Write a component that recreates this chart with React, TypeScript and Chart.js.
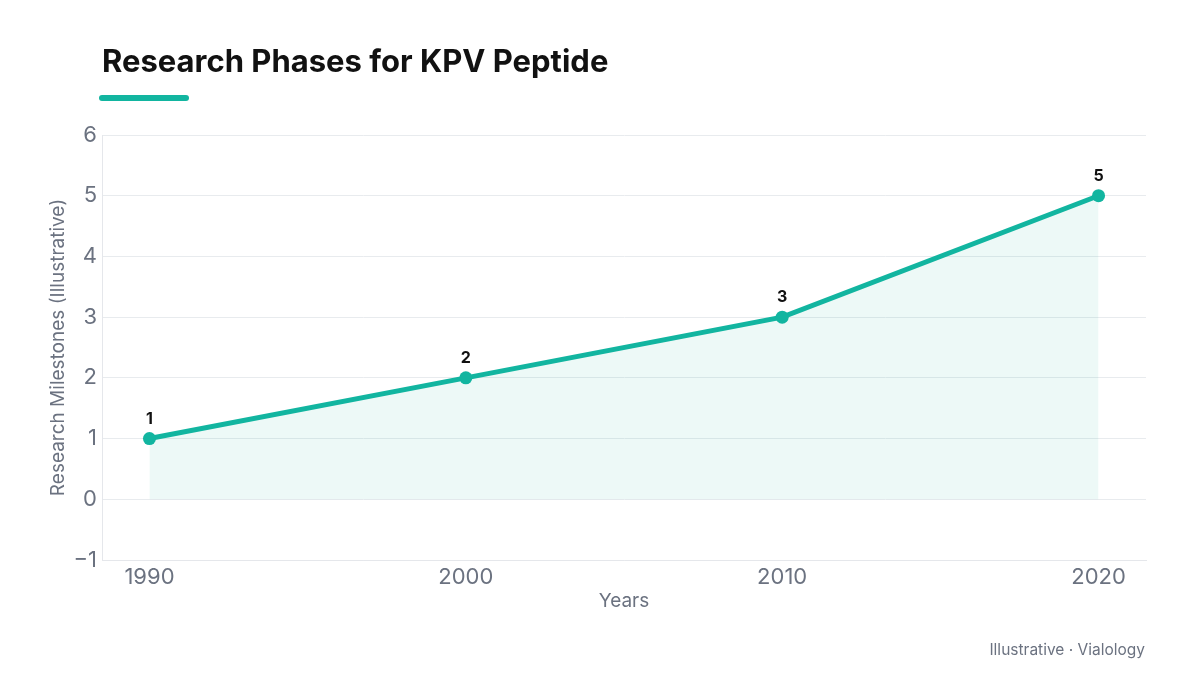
import React, { useEffect, useRef } from "react";
import { Chart, registerables } from "chart.js";

Chart.register(...registerables);

const years = [1990, 2000, 2010, 2020];
const milestones = [1, 2, 3, 5];
const yearTicks = [1990, 2000, 2010, 2020];
const titleText = "Research Phases for KPV Peptide";
const footerText = "Illustrative · Vialology";
const yTitle = "Research Milestones (Illustrative)";
const xTitle = "Years";

const TEAL = "#12b5a0";
const FONT = "Inter, 'Noto Sans', sans-serif";

const decorPlugin = {
  id: "decor",
  afterDraw(chart: any) {
    const ctx = chart.ctx;
    ctx.save();
    // title
    ctx.fillStyle = "#111111";
    ctx.font = `700 31px ${FONT}`;
    ctx.textAlign = "left";
    ctx.textBaseline = "alphabetic";
    ctx.fillText(titleText, 102, 72);
    // underline bar
    ctx.fillStyle = TEAL;
    ctx.beginPath();
    const bx = 99, by = 95, bw = 90, bh = 6;
    ctx.moveTo(bx + bh / 2, by);
    ctx.lineTo(bx + bw - bh / 2, by);
    ctx.arc(bx + bw - bh / 2, by + bh / 2, bh / 2, -Math.PI / 2, Math.PI / 2);
    ctx.lineTo(bx + bh / 2, by + bh);
    ctx.arc(bx + bh / 2, by + bh / 2, bh / 2, Math.PI / 2, (3 * Math.PI) / 2);
    ctx.fill();
    // footer
    ctx.fillStyle = "#6b7280";
    ctx.font = `400 15.5px ${FONT}`;
    ctx.textAlign = "right";
    ctx.fillText(footerText, 1145, 655);
    // data labels
    const meta = chart.getDatasetMeta(0);
    ctx.fillStyle = "#111111";
    ctx.font = `700 16px ${FONT}`;
    ctx.textAlign = "center";
    ctx.textBaseline = "alphabetic";
    meta.data.forEach((pt: any, i: number) => {
      ctx.fillText(String(milestones[i]), pt.x, pt.y - 15);
    });
    ctx.restore();
  },
};

export default function App() {
  const ref = useRef<HTMLCanvasElement>(null);
  useEffect(() => {
    if (!ref.current) return;
    const chart = new Chart(ref.current, {
      type: "line",
      data: {
        datasets: [
          {
            data: years.map((y, i) => ({ x: y, y: milestones[i] })),
            borderColor: TEAL,
            backgroundColor: "rgba(20,184,150,0.08)",
            borderWidth: 5,
            fill: "origin",
            tension: 0,
            pointRadius: 6.5,
            pointBackgroundColor: TEAL,
            pointBorderColor: TEAL,
            pointBorderWidth: 0,
          },
        ],
      },
      plugins: [decorPlugin],
      options: {
        animation: false,
        responsive: false,
        maintainAspectRatio: false,
        layout: { padding: { left: 40, top: 135, right: 54, bottom: 60 } },
        plugins: {
          legend: { display: false },
          tooltip: { enabled: false },
          title: { display: false },
        },
        scales: {
          x: {
            type: "linear",
            min: 1988.5,
            max: 2021.5,
            afterBuildTicks: (scale: any) => {
              scale.ticks = yearTicks.map((v) => ({ value: v }));
            },
            afterFit: (scale: any) => {
              scale.height = 55;
            },
            grid: { display: false, drawTicks: false },
            border: { display: true, color: "#e5e7eb", width: 1 },
            ticks: {
              color: "#6b7280",
              font: { family: FONT, size: 22 },
              padding: 4,
              maxRotation: 0,
              callback: (v: any) => String(v),
            },
            title: {
              display: true,
              text: xTitle,
              color: "#6b7280",
              font: { family: FONT, size: 19 },
              padding: { top: 0, bottom: 2 },
            },
          },
          y: {
            min: -1,
            max: 6,
            afterFit: (scale: any) => {
              scale.width = 62;
            },
            grid: { color: "#e8ebee", drawTicks: false, lineWidth: 1 },
            border: { display: true, color: "#e5e7eb" },
            ticks: {
              stepSize: 1,
              color: "#6b7280",
              font: { family: FONT, size: 22 },
              padding: 5,
              callback: (v: any) => String(v).replace("-", "\u2212"),
            },
            title: {
              display: true,
              text: yTitle,
              color: "#6b7280",
              font: { family: FONT, size: 19 },
              padding: { top: 7, bottom: 0 },
            },
          },
        },
      },
    } as any);
    return () => chart.destroy();
  }, []);
  return (
    <div style={{ position: "fixed", left: 0, top: 0, width: 1200, height: 675, background: "#ffffff" }}>
      <canvas ref={ref} width={1200} height={675} style={{ width: 1200, height: 675 }} />
    </div>
  );
}
